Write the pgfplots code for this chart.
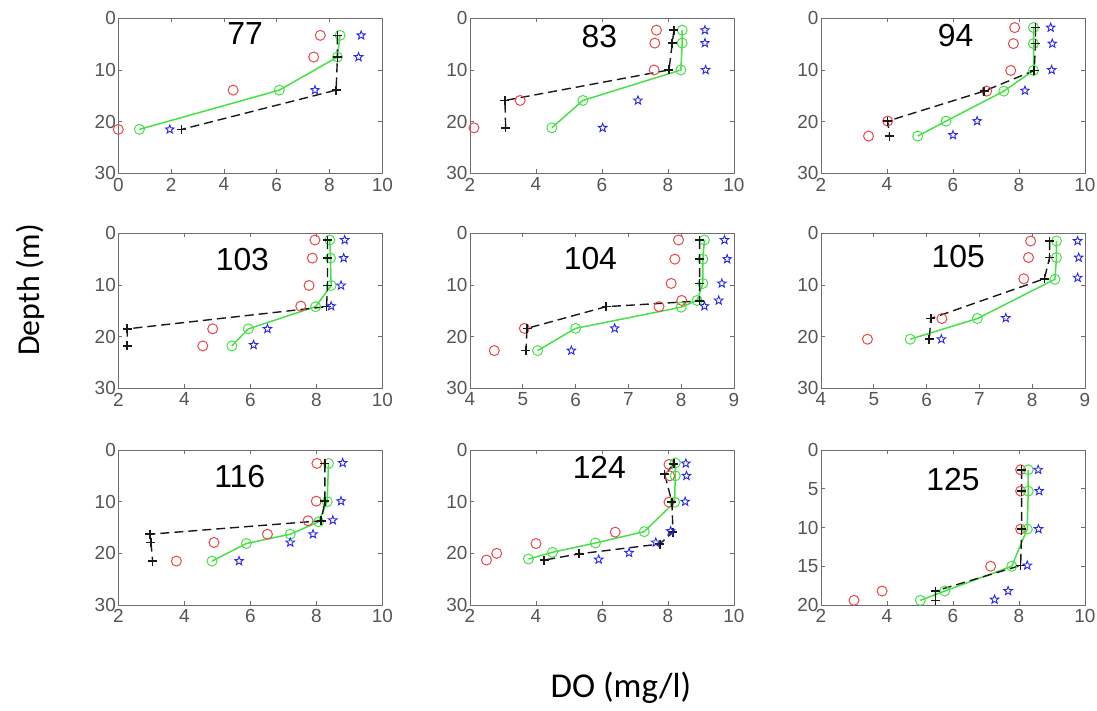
\documentclass[border=0pt]{standalone}
\usepackage{fontspec}
\setmainfont{Liberation Sans}
\newfontfamily\calib{Carlito}
\usepackage{pgfplots}
\pgfplotsset{compat=1.18}
\definecolor{mred}{RGB}{232,72,72}
\definecolor{mgreen}{RGB}{70,225,70}
\definecolor{mblue}{RGB}{40,40,235}
\definecolor{mblack}{RGB}{25,25,25}
\definecolor{frame}{RGB}{110,110,110}
\definecolor{lbl}{RGB}{85,85,85}
\pgfdeclareplotmark{pentagram}{%
  \pgfpathmoveto{\pgfpointpolar{90}{1\pgfplotmarksize}}%
  \pgfpathlineto{\pgfpointpolar{126}{0.42\pgfplotmarksize}}%
  \pgfpathlineto{\pgfpointpolar{162}{1\pgfplotmarksize}}%
  \pgfpathlineto{\pgfpointpolar{198}{0.42\pgfplotmarksize}}%
  \pgfpathlineto{\pgfpointpolar{234}{1\pgfplotmarksize}}%
  \pgfpathlineto{\pgfpointpolar{270}{0.42\pgfplotmarksize}}%
  \pgfpathlineto{\pgfpointpolar{306}{1\pgfplotmarksize}}%
  \pgfpathlineto{\pgfpointpolar{342}{0.42\pgfplotmarksize}}%
  \pgfpathlineto{\pgfpointpolar{18}{1\pgfplotmarksize}}%
  \pgfpathlineto{\pgfpointpolar{54}{0.42\pgfplotmarksize}}%
  \pgfpathclose\pgfusepathqstroke}
\tikzset{ttl/.style={font=\fontsize{32}{32}\selectfont, text=black}}
\pgfplotsset{
  panel/.style={scale only axis, width=264bp, height=155bp, anchor=north west,
    y dir=reverse, ymin=0, ymax=30, ytick={0,10,20,30},
    xmin=2, xmax=10, xtick={2,4,6,8,10}, clip=false,
    axis line style={frame, line width=0.9bp}, tick style={frame, line width=0.8bp},
    tick align=inside, major tick length=4bp, xtick pos=both, ytick pos=both,
    /pgf/number format/assume math mode=true,
    ticklabel style={font=\fontsize{19}{19}\selectfont, text=lbl},
    xticklabel style={yshift=-1bp}, yticklabel style={xshift=1bp}},
  redc/.style={only marks, mark=o, mark size=5bp, color=mred, mark options={line width=1bp}},
  grn/.style={color=mgreen, line width=1.5bp, mark=o, mark size=5bp, mark options={solid, line width=1bp}},
  blk/.style={color=mblack, line width=1.4bp, dash pattern=on 9bp off 5bp, mark=+, mark size=4.5bp, mark options={solid, line width=1.6bp}},
  blu/.style={only marks, mark=pentagram, mark size=4.5bp, color=mblue, mark options={line width=0.9bp}}
}
\begin{document}
\begin{tikzpicture}
\path[use as bounding box] (0bp,0bp) rectangle (1097bp,711bp);
% ---------- row 1 ----------
\begin{axis}[panel, at={(118.3bp,692.7bp)}, xmin=0, xtick={0,2,4,6,8,10}]
\addplot[redc] coordinates {(7.65,3.3)(7.4,7.5)(4.35,13.9)(0,21.5)};
\addplot[grn] coordinates {(8.4,3.3)(8.3,7.5)(6.1,13.9)(0.8,21.5)};
\addplot[blk] coordinates {(8.3,3.3)(8.3,7.5)(8.25,13.9)(2.4,21.5)};
\addplot[blu] coordinates {(9.2,3.3)(9.1,7.5)(7.45,13.9)(1.95,21.5)};
\node[ttl] at (axis description cs:0.48,0.90) {77};
\end{axis}
\begin{axis}[panel, at={(470bp,692.7bp)}]
\addplot[redc] coordinates {(7.65,2.3)(7.6,4.8)(7.58,10.0)(3.52,15.9)(2.12,21.2)};
\addplot[grn] coordinates {(8.43,2.3)(8.43,4.8)(8.39,10.0)(5.42,15.9)(4.48,21.2)};
\addplot[blk] coordinates {(8.18,2.3)(8.13,4.8)(8.03,10.0)(3.06,15.9)(3.08,21.2)};
\addplot[blu] coordinates {(9.12,2.3)(9.12,4.8)(9.14,10.0)(7.09,15.9)(6.02,21.2)};
\node[ttl] at (axis description cs:0.49,0.88) {83};
\end{axis}
\begin{axis}[panel, at={(821bp,692.7bp)}]
\addplot[redc] coordinates {(7.87,1.8)(7.83,4.9)(7.75,10.1)(7.02,14.1)(4.02,19.9)(3.44,22.8)};
\addplot[grn] coordinates {(8.44,1.8)(8.44,4.9)(8.44,10.1)(7.54,14.1)(5.79,19.9)(4.93,22.8)};
\addplot[blk] coordinates {(8.5,1.8)(8.5,4.9)(8.46,10.1)(6.94,14.1)(4.02,19.9)(4.08,22.8)};
\addplot[blu] coordinates {(8.96,1.8)(9.01,4.9)(8.99,10.0)(8.18,14.0)(6.73,19.9)(6.0,22.6)};
\node[ttl] at (axis description cs:0.51,0.89) {94};
\end{axis}
% ---------- row 2 ----------
\begin{axis}[panel, at={(118.3bp,477.7bp)}]
\addplot[redc] coordinates {(7.96,1.3)(7.88,4.8)(7.78,10.1)(7.53,14.1)(4.86,18.5)(4.56,21.8)};
\addplot[grn] coordinates {(8.41,1.3)(8.43,4.8)(8.45,10.1)(7.98,14.2)(5.94,18.5)(5.44,21.8)};
\addplot[blk] coordinates {(8.34,1.3)(8.34,4.8)(8.34,10.1)(8.31,14.2)(2.27,18.5)(2.27,21.8)};
\addplot[blu] coordinates {(8.86,1.3)(8.83,4.8)(8.75,10.1)(8.45,14.1)(6.52,18.5)(6.1,21.6)};
\node[ttl] at (axis description cs:0.47,0.83) {103};
\end{axis}
\begin{axis}[panel, at={(470bp,477.7bp)}, xmin=4, xmax=9, xtick={4,5,6,7,8,9}]
\addplot[redc] coordinates {(7.95,1.3)(7.88,5.0)(7.81,9.7)(8.01,13.0)(7.58,14.2)(5.03,18.4)(4.46,22.7)};
\addplot[grn] coordinates {(8.44,1.3)(8.41,5.0)(8.41,9.7)(8.30,13.0)(8.0,14.3)(6.0,18.4)(5.28,22.7)};
\addplot[blk] coordinates {(8.35,1.3)(8.35,5.0)(8.35,9.7)(8.35,13.1)(6.58,14.2)(5.08,18.4)(5.06,22.7)};
\addplot[blu] coordinates {(8.82,1.3)(8.87,5.0)(8.77,9.7)(8.71,13.0)(8.44,14.1)(6.74,18.4)(5.92,22.7)};
\node[ttl] at (axis description cs:0.456,0.84) {104};
\end{axis}
\begin{axis}[panel, at={(821bp,477.7bp)}, xmin=4, xmax=9, xtick={4,5,6,7,8,9}]
\addplot[redc] coordinates {(7.97,1.5)(7.93,4.7)(7.84,8.8)(6.29,16.5)(4.88,20.5)};
\addplot[grn] coordinates {(8.46,1.5)(8.46,4.7)(8.43,8.9)(6.96,16.5)(5.69,20.5)};
\addplot[blk] coordinates {(8.33,1.5)(8.33,4.7)(8.23,8.8)(6.08,16.5)(6.05,20.5)};
\addplot[blu] coordinates {(8.86,1.5)(8.88,4.7)(8.86,8.6)(7.5,16.4)(6.28,20.5)};
\node[ttl] at (axis description cs:0.52,0.85) {105};
\end{axis}
% ---------- row 3 ----------
\begin{axis}[panel, at={(118.3bp,261bp)}]
\addplot[redc] coordinates {(8.02,2.6)(8.0,9.9)(7.75,13.7)(6.52,16.3)(4.9,17.9)(3.76,21.5)};
\addplot[grn] coordinates {(8.37,2.6)(8.33,10.0)(8.07,13.9)(7.21,16.3)(5.88,18.1)(4.84,21.5)};
\addplot[blk] coordinates {(8.26,2.6)(8.26,9.9)(8.15,13.7)(2.96,16.3)(2.99,17.9)(3.04,21.5)};
\addplot[blu] coordinates {(8.8,2.5)(8.75,9.9)(8.5,13.6)(7.9,16.3)(7.21,17.9)(5.66,21.5)};
\node[ttl] at (axis description cs:0.46,0.83) {116};
\end{axis}
\begin{axis}[panel, at={(470bp,261bp)}]
\addplot[redc] coordinates {(8.03,2.8)(8.05,5.0)(8.03,10.1)(6.4,15.9)(4.0,18.1)(2.81,20.0)(2.5,21.3)};
\addplot[grn] coordinates {(8.22,2.5)(8.22,5.0)(8.2,10.1)(7.28,15.8)(5.8,18.0)(4.5,19.8)(3.77,21.1)};
\addplot[blk] coordinates {(8.18,2.7)(7.9,4.7)(8.12,10.1)(8.15,15.9)(7.75,18.2)(5.31,20.1)(4.25,21.3)};
\addplot[blu] coordinates {(8.54,2.6)(8.56,5.0)(8.52,10.0)(8.08,15.7)(7.63,17.9)(6.82,19.9)(5.9,21.2)};
\node[ttl] at (axis description cs:0.49,0.89) {124};
\end{axis}
\begin{axis}[panel, at={(821bp,261bp)}, ymax=20, ytick={0,5,10,15,20}]
\addplot[redc] coordinates {(8.05,2.55)(8.05,5.3)(8.05,10.2)(7.14,15.0)(3.85,18.2)(3.0,19.4)};
\addplot[grn] coordinates {(8.28,2.55)(8.28,5.3)(8.25,10.2)(7.78,15.0)(5.75,18.2)(5.01,19.4)};
\addplot[blk] coordinates {(8.08,2.55)(8.08,5.3)(8.08,10.2)(8.05,14.9)(5.47,18.2)(5.47,19.4)};
\addplot[blu] coordinates {(8.58,2.55)(8.61,5.3)(8.59,10.2)(8.25,14.9)(7.67,18.2)(7.26,19.3)};
\node[ttl] at (axis description cs:0.50,0.81) {125};
\end{axis}
\node[rotate=90, font=\calib\fontsize{32}{32}\selectfont] at (30bp,421bp) {Depth (m)};
\node[font=\calib\fontsize{35}{35}\selectfont] at (621bp,23bp) {DO (mg/l)};
\end{tikzpicture}
\end{document}
